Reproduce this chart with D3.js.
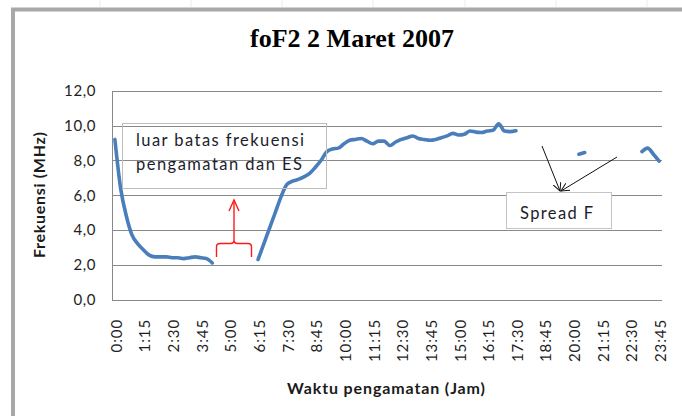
<!DOCTYPE html>
<html>
<head>
<meta charset="utf-8">
<script src="https://cdn.jsdelivr.net/npm/d3@7"></script>
<style>
  html, body { margin: 0; padding: 0; background: #fff; }
  svg { display: block; }
</style>
</head>
<body>
<svg id="chart" width="682" height="416"></svg>
<script>
// ---------- data ----------
const titleText = "foF2 2 Maret 2007";
const yTitle = "Frekuensi (MHz)";
const xTitle = "Waktu pengamatan (Jam)";
// 96 quarter-hour slots, 0:00 ... 23:45 (null = no data)
const foF2 = [
  9.2, 6.4, 4.8, 3.7, 3.2, 2.85, 2.55, 2.45, 2.45, 2.45,
  2.4, 2.4, 2.35, 2.4, 2.45, 2.4, 2.35, 2.1, null, null,
  null, null, null, null, null, 2.3, 3.2, 4.1, 5.0, 5.9,
  6.6, 6.8, 6.9, 7.05, 7.25, 7.6, 8.0, 8.5, 8.65, 8.7,
  8.95, 9.15, 9.2, 9.25, 9.1, 8.95, 9.1, 9.1, 8.85, 9.05,
  9.2, 9.3, 9.4, 9.25, 9.2, 9.15, 9.2, 9.3, 9.4, 9.55,
  9.45, 9.5, 9.68, 9.62, 9.6, 9.68, 9.72, 10.1, 9.68, 9.65,
  9.7, null, null, null, null, null, null, null, null, null,
  null, 8.35, 8.45, null, null, null, null, null, null, null,
  null, null, 8.5, 8.7, 8.35, 7.95
];
const xTickLabels = ["0:00","1:15","2:30","3:45","5:00","6:15","7:30","8:45","10:00","11:15",
  "12:30","13:45","15:00","16:15","17:30","18:45","20:00","21:15","22:30","23:45"];
const yTicks = [0, 2, 4, 6, 8, 10, 12];
const yTickLabels = ["0,0","2,0","4,0","6,0","8,0","10,0","12,0"];
const noteESLines = ["luar batas frekuensi", "pengamatan dan ES"];
const noteSpread = "Spread F";

// ---------- build ----------
const categories = foF2.map((_, i) => {
  const h = Math.floor(i / 4), m = (i % 4) * 15;
  return h + ":" + (m === 0 ? "00" : m);
});

const svg = d3.select("#chart");
const W = 682, H = 416;
const pLeft = 112, pRight = 662, pTop = 90.7, pBottom = 299.5;

svg.append("rect").attr("width", W).attr("height", H).attr("fill", "#fff");

// faint spreadsheet column marks above the chart frame
svg.selectAll("line.sheet").data([100, 191, 282, 373, 465, 556, 647]).enter()
  .append("line").attr("class", "sheet")
  .attr("x1", d => d).attr("x2", d => d).attr("y1", 0).attr("y2", 7)
  .attr("stroke", "#ececec").attr("stroke-width", 1);

// chart frame
svg.append("rect")
  .attr("x", 13).attr("y", 9.5).attr("width", 720).attr("height", 440)
  .attr("fill", "#fff").attr("stroke", "#a8a8a8").attr("stroke-width", 4);

const x = d3.scaleBand().domain(categories).range([pLeft, pRight]);
const y = d3.scaleLinear().domain([0, 12]).range([pBottom, pTop]);
const cx = c => x(c) + x.bandwidth() / 2;

// title
svg.append("text")
  .attr("x", 352).attr("y", 47)
  .attr("text-anchor", "middle")
  .attr("font-family", "'Liberation Serif', 'Times New Roman', serif")
  .attr("font-weight", "bold").attr("font-size", 26)
  .attr("fill", "#000")
  .text(titleText);

// gridlines
svg.append("g").selectAll("line").data(yTicks).enter().append("line")
  .attr("x1", pLeft).attr("x2", pRight)
  .attr("y1", d => Math.round(y(d)) + 0.5).attr("y2", d => Math.round(y(d)) + 0.5)
  .attr("stroke", "#898989").attr("stroke-width", 1);

// y axis line
svg.append("line")
  .attr("x1", pLeft + 0.5).attr("x2", pLeft + 0.5)
  .attr("y1", Math.round(y(12)) + 0.5).attr("y2", Math.round(y(0)) + 0.5)
  .attr("stroke", "#898989").attr("stroke-width", 1);

// y tick labels
svg.append("g").selectAll("text").data(yTicks).enter().append("text")
  .attr("x", 96).attr("y", d => y(d))
  .attr("dy", "0.36em")
  .attr("text-anchor", "end")
  .attr("font-family", "Lato, 'Open Sans', sans-serif")
  .attr("font-size", 15)
  .style("letter-spacing", "0.6px")
  .attr("fill", "#1e1e1e")
  .text((d, i) => yTickLabels[i]);

// x tick labels (every 5th category)
svg.append("g").selectAll("text").data(xTickLabels).enter().append("text")
  .attr("transform", d => `translate(${cx(d) + 1.5},319) rotate(-90)`)
  .attr("dy", "0.36em")
  .attr("text-anchor", "end")
  .attr("font-family", "Lato, 'Open Sans', sans-serif")
  .attr("font-size", 15)
  .style("letter-spacing", "0.9px")
  .attr("fill", "#1e1e1e")
  .text(d => d);

// axis titles
svg.append("text")
  .attr("x", 386).attr("y", 394)
  .attr("text-anchor", "middle")
  .attr("font-family", "Lato, 'Open Sans', sans-serif")
  .attr("font-weight", "bold").attr("font-size", 16)
  .attr("textLength", 198).attr("lengthAdjust", "spacing")
  .attr("fill", "#1a1a1a")
  .text(xTitle);

svg.append("text")
  .attr("transform", "translate(39,195) rotate(-90)")
  .attr("dy", "0.36em")
  .attr("text-anchor", "middle")
  .attr("font-family", "Lato, 'Open Sans', sans-serif")
  .attr("font-weight", "bold").attr("font-size", 16)
  .attr("textLength", 126).attr("lengthAdjust", "spacing")
  .attr("fill", "#1a1a1a")
  .text(yTitle);

// data line
const line = d3.line()
  .defined(d => d.v !== null)
  .x(d => cx(d.c))
  .y(d => y(d.v))
  .curve(d3.curveMonotoneX);
svg.append("path")
  .datum(categories.map((c, i) => ({ c, v: foF2[i] })))
  .attr("d", line)
  .attr("fill", "none")
  .attr("stroke", "#4a7ebb")
  .attr("stroke-width", 3.6)
  .attr("stroke-linejoin", "round")
  .attr("stroke-linecap", "round");

// annotation: ES box (transparent)
svg.append("rect")
  .attr("x", 122.5).attr("y", 123.5).attr("width", 204).attr("height", 65)
  .attr("fill", "none").attr("stroke", "#bdbdbd").attr("stroke-width", 1);
svg.append("g").selectAll("text").data(noteESLines).enter().append("text")
  .attr("x", 136).attr("y", (d, i) => 146 + i * 24)
  .attr("font-family", "Lato, 'Open Sans', sans-serif")
  .attr("font-size", 16.5)
  .attr("textLength", (d, i) => i === 0 ? 168 : 166).attr("lengthAdjust", "spacing")
  .attr("fill", "#1c1c2c")
  .text(d => d);

// red brace + arrow
const red = svg.append("g").attr("fill", "none").attr("stroke", "#ff1a1a").attr("stroke-width", 1.4);
red.append("path").attr("d",
  "M216.5,257 L216.5,247 Q216.5,243.5 220,243.5 L230.5,243.5 Q234,243.5 234,240 " +
  "Q234,243.5 237.5,243.5 L248,243.5 Q251.5,243.5 251.5,247 L251.5,257");
red.append("path").attr("d", "M234,240 L234,200.5");
red.append("path").attr("d", "M229,211 L234,200 L239,211");

// Spread F box
svg.append("rect")
  .attr("x", 506.5).attr("y", 192.5).attr("width", 105).attr("height", 36)
  .attr("fill", "#fff").attr("stroke", "#c4c4c4").attr("stroke-width", 1);
svg.append("text")
  .attr("x", 520).attr("y", 219)
  .attr("font-family", "Lato, 'Open Sans', sans-serif")
  .attr("font-size", 16.5)
  .attr("textLength", 73).attr("lengthAdjust", "spacing")
  .attr("fill", "#1c1c2c")
  .text(noteSpread);

// black arrows to Spread F
const defs = svg.append("defs");
defs.append("marker")
  .attr("id", "arr").attr("viewBox", "0 -5 10 10")
  .attr("refX", 9).attr("refY", 0)
  .attr("markerWidth", 9).attr("markerHeight", 9)
  .attr("markerUnits", "userSpaceOnUse")
  .attr("orient", "auto")
  .append("path").attr("d", "M0,-4.5 L9,0 L0,4.5")
  .attr("fill", "none").attr("stroke", "#111").attr("stroke-width", 1.1);
svg.append("line")
  .attr("x1", 542).attr("y1", 146).attr("x2", 560).attr("y2", 191)
  .attr("stroke", "#111").attr("stroke-width", 1).attr("marker-end", "url(#arr)");
svg.append("line")
  .attr("x1", 617).attr("y1", 157).attr("x2", 561).attr("y2", 191)
  .attr("stroke", "#111").attr("stroke-width", 1).attr("marker-end", "url(#arr)");
</script>
</body>
</html>
